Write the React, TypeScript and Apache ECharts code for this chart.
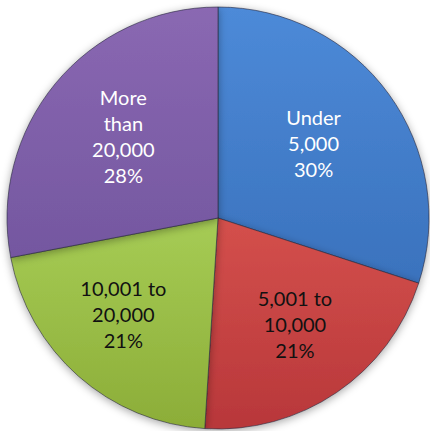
import React, { useEffect, useRef } from "react";
import * as echarts from "echarts";

const categories = ["Under\n5,000", "5,001 to\n10,000", "10,001 to\n20,000", "More\nthan\n20,000"];
const percents = [30, 21, 21, 28];
const labelColors = ["#ffffff", "#111111", "#111111", "#ffffff"];
const topColors = ["#4d8ad8", "#d4504c", "#a6cc55", "#8a68b2"];
const bottomColors = ["#3a72bd", "#b8373a", "#8cad38", "#7457a0"];
const labelPadding = [[0, 16, 0, 0], [0, 0, 4, 10], [0, 20, 48, 0], [0, 0, 0, 8]];

export default function App() {
  const ref = useRef<HTMLDivElement>(null);
  useEffect(() => {
    document.body.style.margin = "0";
    const chart = echarts.init(ref.current!, null, { renderer: "svg" });
    const visData = categories.map((c, i) => ({
      name: c,
      value: percents[i],
      itemStyle: {
        color: new echarts.graphic.LinearGradient(0, 0, 0, 1, [
          { offset: 0, color: topColors[i] },
          { offset: 1, color: bottomColors[i] },
        ]),
      },
    }));
    const labelData = categories.map((c, i) => ({
      name: c,
      value: percents[i],
      label: { color: labelColors[i], padding: labelPadding[i] },
    }));
    chart.setOption({
      animation: false,
      series: [
        {
          type: "pie",
          center: [218, 218],
          radius: [0, 211],
          startAngle: 90,
          clockwise: true,
          silent: true,
          label: { show: false },
          labelLine: { show: false },
          itemStyle: {
            borderColor: "rgba(40,40,60,0.6)",
            borderWidth: 1,
            shadowBlur: 8,
            shadowColor: "rgba(0,0,0,0.35)",
            shadowOffsetY: 2,
          },
          data: visData,
        },
        {
          type: "pie",
          center: [218, 218],
          radius: [40, 210],
          startAngle: 90,
          clockwise: true,
          silent: true,
          itemStyle: { color: "rgba(0,0,0,0)" },
          labelLine: { show: false },
          label: {
            show: true,
            position: "inside",
            fontFamily: "Lato, 'Open Sans', sans-serif",
            fontSize: 20,
            lineHeight: 26,
            align: "center",
            formatter: (p: any) => `${p.name}\n${p.value}%`,
          },
          data: labelData,
        },
      ],
    });
    return () => chart.dispose();
  }, []);
  return <div ref={ref} style={{ width: 430, height: 431 }} />;
}
